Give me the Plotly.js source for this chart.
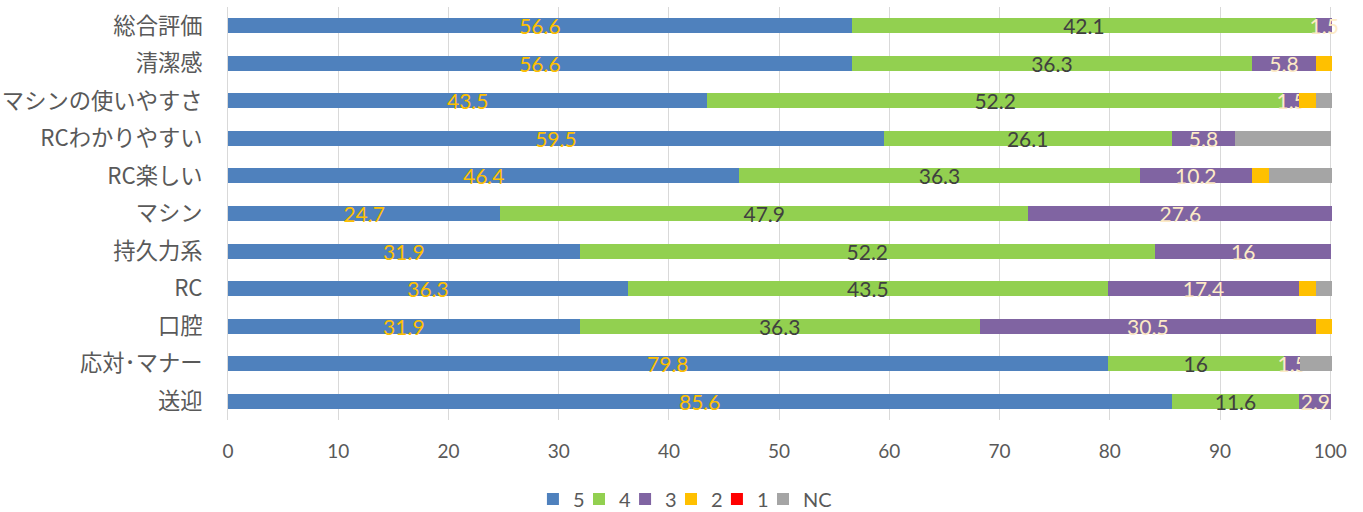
<!DOCTYPE html>
<html>
<head>
<meta charset="utf-8">
<script src="https://cdn.plot.ly/plotly-3.0.1.min.js"></script>
<style>
  html, body { margin: 0; padding: 0; background: #ffffff; }
  #chart { width: 1363px; height: 512px; }
</style>
</head>
<body>
<div id="chart"></div>
<script>
// Categories, top to bottom
const categories = ["総合評価", "清潔感", "マシンの使いやすさ", "RCわかりやすい", "RC楽しい", "マシン", "持久力系", "RC", "口腔", "応対･マナー", "送迎"];

// Series values (%)
const s5 = [56.6, 56.6, 43.5, 59.5, 46.4, 24.7, 31.9, 36.3, 31.9, 79.8, 85.6];
const s4 = [42.1, 36.3, 52.2, 26.1, 36.3, 47.9, 52.2, 43.5, 36.3, 16, 11.6];
const s3 = [1.5, 5.8, 1.5, 5.8, 10.2, 27.6, 16, 17.4, 30.5, 1.5, 2.9];
const s2 = [0, 1.5, 1.5, 0, 1.5, 0, 0, 1.5, 1.5, 0, 0];
const s1 = [0, 0, 0, 0, 0, 0, 0, 0, 0, 0, 0];
const sNC = [0, 0, 1.5, 8.7, 5.8, 0, 0, 1.5, 0, 2.9, 0];

const seriesNames = ["5", "4", "3", "2", "1", "NC"];
const seriesData = [s5, s4, s3, s2, s1, sNC];
const seriesColors = ["#4F81BD", "#92D050", "#8064A2", "#FFC000", "#FF0000", "#A5A5A5"];
const labelColors = ["#FFC000", "#404040", "#FDEBC6", null, null, null];
// one small legend per series, drawn right-to-left so no box lies over a neighbour's text
const legendIds = ["legend6", "legend5", "legend4", "legend3", "legend2", "legend"];
const legendX = [0.3910, 0.4248, 0.4586, 0.4923, 0.5260, 0.5598];

const traces = seriesNames.map((name, i) => {
  const t = {
    type: "bar",
    orientation: "h",
    name: name,
    y: categories,
    x: seriesData[i],
    legend: legendIds[i],
    marker: { color: seriesColors[i], line: { width: 0 } },
    hoverinfo: "skip",
    cliponaxis: false
  };
  if (labelColors[i]) {
    t.text = seriesData[i].map(v => String(v));
    t.textposition = "inside";
    t.insidetextanchor = "middle";
    t.textangle = 0;
    t.constraintext = "none";
    t.textfont = { family: "Lato, 'Open Sans', sans-serif", size: 21, color: labelColors[i] };
  } else {
    t.textposition = "none";
  }
  return t;
});

const legendBase = {
  orientation: "h",
  xref: "container",
  yref: "container",
  xanchor: "left",
  y: 0.0254,
  yanchor: "middle",
  font: { family: "Lato, 'Open Sans', sans-serif", size: 20, color: "#595959" },
  itemwidth: 30,
  traceorder: "normal",
  bgcolor: "rgba(0,0,0,0)",
  borderwidth: 0
};

const layout = {
  width: 1363,
  height: 512,
  barmode: "stack",
  bargap: 0.6,
  paper_bgcolor: "#ffffff",
  plot_bgcolor: "#ffffff",
  margin: { l: 228, r: 30.24, t: 7, b: 92, pad: 0 },
  font: { family: "'Noto Sans CJK JP', sans-serif", color: "#595959" },
  xaxis: {
    range: [0, 100.25],
    tickvals: [0, 10, 20, 30, 40, 50, 60, 70, 80, 90, 100],
    showgrid: true,
    gridcolor: "#D9D9D9",
    gridwidth: 1,
    zeroline: false,
    showline: false,
    ticks: "",
    ticklabelstandoff: 18,
    tickfont: { family: "Lato, 'Open Sans', sans-serif", size: 19, color: "#595959" },
    fixedrange: true
  },
  yaxis: {
    type: "category",
    autorange: "reversed",
    showgrid: false,
    zeroline: false,
    showline: true,
    linecolor: "#D9D9D9",
    linewidth: 1,
    ticks: "",
    ticklabelstandoff: 20,
    tickfont: { family: "'Noto Sans CJK JP', sans-serif", size: 22.3, color: "#595959" },
    fixedrange: true
  },
  showlegend: true
};
legendIds.forEach((id, i) => {
  layout[id] = Object.assign({}, legendBase, { x: legendX[i] });
});

Plotly.newPlot("chart", traces, layout, { displayModeBar: false, staticPlot: true });
</script>
</body>
</html>
